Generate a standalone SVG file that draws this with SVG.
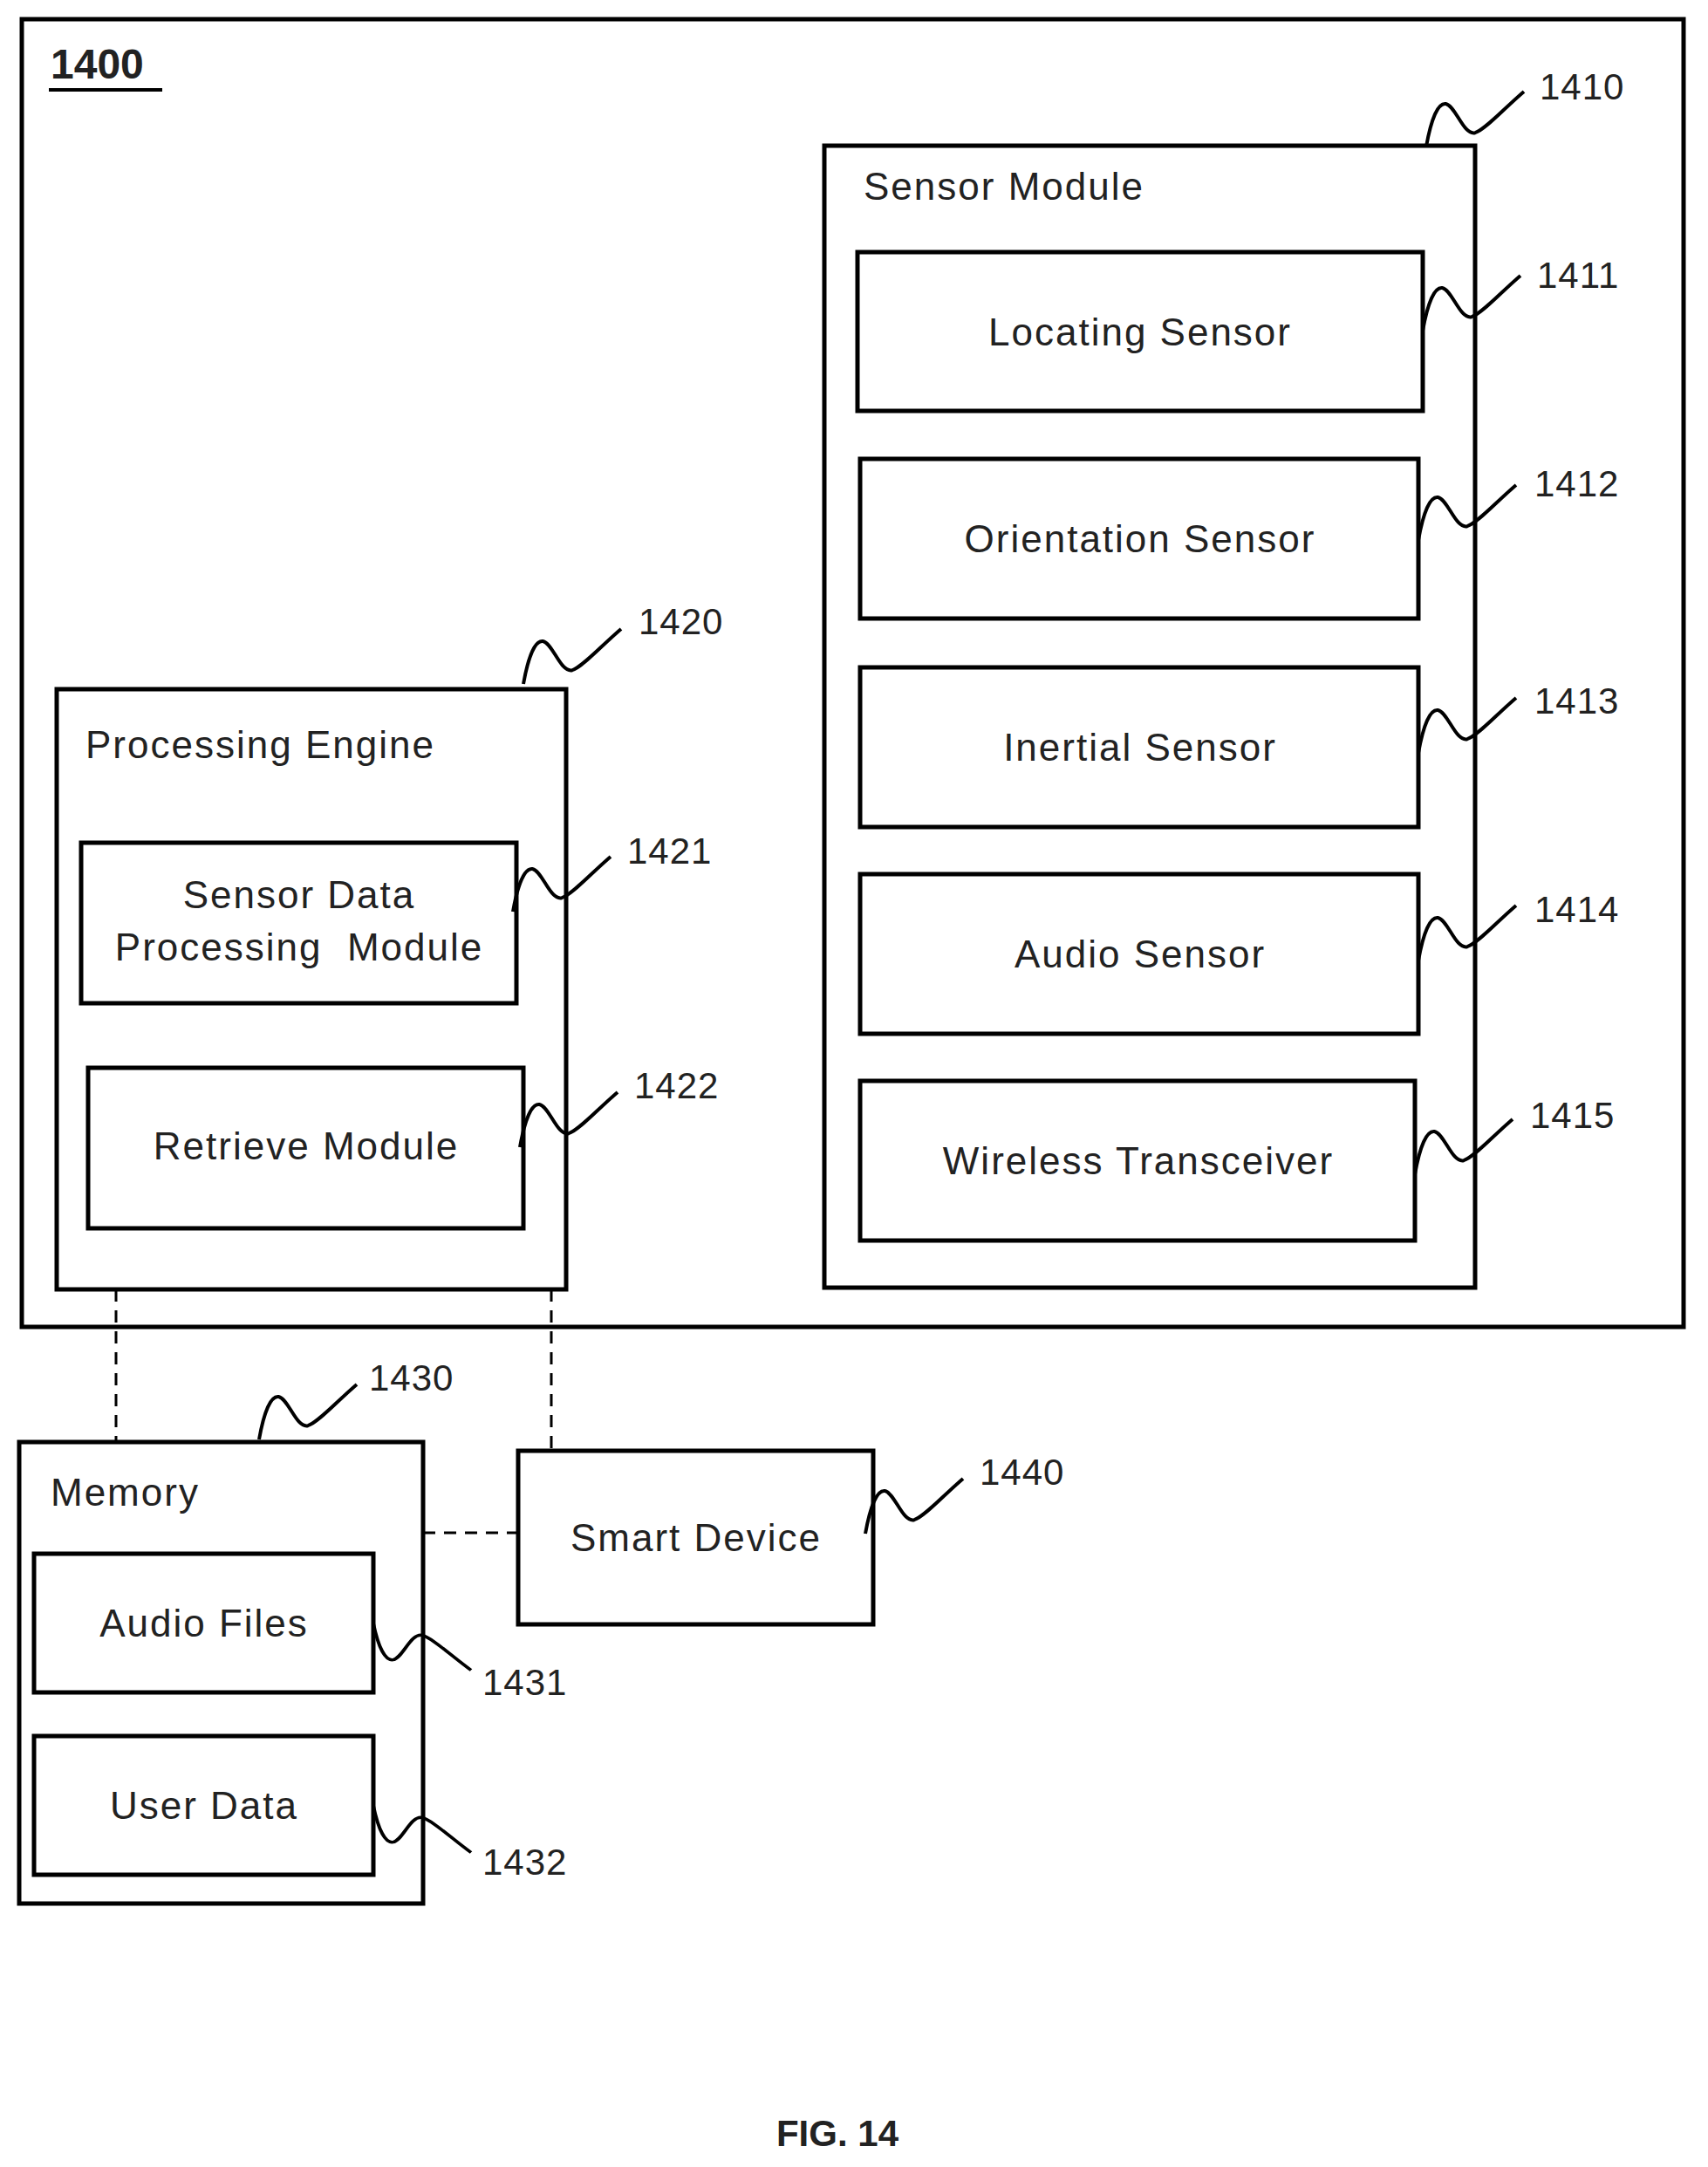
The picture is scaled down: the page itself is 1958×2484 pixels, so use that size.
<svg xmlns="http://www.w3.org/2000/svg" xmlns:xlink="http://www.w3.org/1999/xlink" width="1958" height="2484" viewBox="0 0 1958 2484">
<style>
.b{fill:#fff;stroke:#000;stroke-width:5}
.t{font-family:"Liberation Sans",Arial,sans-serif;font-size:44px;fill:#222;letter-spacing:2px}
.m{text-anchor:middle}
.l{font-family:"Liberation Sans",Arial,sans-serif;font-size:42px;fill:#222;letter-spacing:1px}
.q{fill:none;stroke:#000;stroke-width:4}
.d{fill:none;stroke:#000;stroke-width:3;stroke-dasharray:14,10}
</style>
<defs>
<path id="sq" class="q" d="M0,0 C5.6,-31.5 13.4,-50.4 22.4,-49 C33.6,-47 42.6,-12.6 56,-15.8 C67.2,-19 89.6,-44 112,-63"/>
</defs>
<rect x="0" y="0" width="1958" height="2484" fill="#fff"/>
<g id="n1400">
<rect class="b" x="25" y="22" width="1905" height="1499"/>
<text x="58" y="90" style="font-family:'Liberation Sans',Arial,sans-serif;font-size:48px;font-weight:bold;fill:#222">1400</text>
<line x1="56" y1="103" x2="186" y2="103" stroke="#000" stroke-width="4"/>
</g>
<g id="n1410">
<rect class="b" x="945" y="167" width="746" height="1309"/>
<text class="t" x="990" y="229">Sensor Module</text>
<use xlink:href="#sq" transform="translate(1635,168)"/>
<text class="l" x="1765" y="114">1410</text>
</g>
<g id="n1411"><rect class="b" x="983" y="289" width="648" height="182"/><text class="t m" x="1307" y="396">Locating Sensor</text><use xlink:href="#sq" transform="translate(1631,379)"/><text class="l" x="1762" y="330">1411</text></g>
<g id="n1412"><rect class="b" x="986" y="526" width="640" height="183"/><text class="t m" x="1307" y="633">Orientation Sensor</text><use xlink:href="#sq" transform="translate(1626,619)"/><text class="l" x="1759" y="569">1412</text></g>
<g id="n1413"><rect class="b" x="986" y="765" width="640" height="183"/><text class="t m" x="1307" y="872">Inertial Sensor</text><use xlink:href="#sq" transform="translate(1626,863)"/><text class="l" x="1759" y="818">1413</text></g>
<g id="n1414"><rect class="b" x="986" y="1002" width="640" height="183"/><text class="t m" x="1307" y="1109">Audio Sensor</text><use xlink:href="#sq" transform="translate(1626,1101)"/><text class="l" x="1759" y="1057">1414</text></g>
<g id="n1415"><rect class="b" x="986" y="1239" width="636" height="183"/><text class="t m" x="1305" y="1346">Wireless Transceiver</text><use xlink:href="#sq" transform="translate(1622,1346)"/><text class="l" x="1754" y="1293">1415</text></g>
<g id="n1420">
<rect class="b" x="65" y="790" width="584" height="688"/>
<text class="t" x="98" y="869">Processing Engine</text>
<use xlink:href="#sq" transform="translate(600,784)"/>
<text class="l" x="732" y="727">1420</text>
</g>
<g id="n1421"><rect class="b" x="93" y="966" width="499" height="184"/><text class="t m" x="343" y="1041">Sensor Data</text><text class="t m" x="343" y="1101">Processing&#160; Module</text><use xlink:href="#sq" transform="translate(588,1045)"/><text class="l" x="719" y="990">1421</text></g>
<g id="n1422"><rect class="b" x="101" y="1224" width="499" height="184"/><text class="t m" x="351" y="1329">Retrieve Module</text><use xlink:href="#sq" transform="translate(596,1315)"/><text class="l" x="727" y="1259">1422</text></g>
<g id="n1430">
<rect class="b" x="22" y="1653" width="463" height="529"/>
<text class="t" x="58" y="1726">Memory</text>
<use xlink:href="#sq" transform="translate(297,1650)"/>
<text class="l" x="423" y="1594">1430</text>
</g>
<g id="n1431"><rect class="b" x="39" y="1781" width="389" height="159"/><text class="t m" x="234" y="1876">Audio Files</text><use xlink:href="#sq" transform="translate(428,1861) scale(1,-0.85)"/><text class="l" x="553" y="1943">1431</text></g>
<g id="n1432"><rect class="b" x="39" y="1990" width="389" height="159"/><text class="t m" x="234" y="2085">User Data</text><use xlink:href="#sq" transform="translate(428,2070) scale(1,-0.85)"/><text class="l" x="553" y="2149">1432</text></g>
<g id="n1440"><rect class="b" x="594" y="1663" width="407" height="199"/><text class="t m" x="798" y="1778">Smart Device</text><use xlink:href="#sq" transform="translate(992,1758)"/><text class="l" x="1123" y="1702">1440</text></g>
<g id="connectors">
<line class="d" x1="133" y1="1478" x2="133" y2="1653"/>
<line class="d" x1="632" y1="1478" x2="632" y2="1663"/>
<line class="d" x1="485" y1="1757" x2="594" y2="1757"/>
</g>
<text x="960" y="2460" text-anchor="middle" style="font-family:'Liberation Sans',Arial,sans-serif;font-size:42px;font-weight:bold;fill:#222">FIG. 14</text>
</svg>
